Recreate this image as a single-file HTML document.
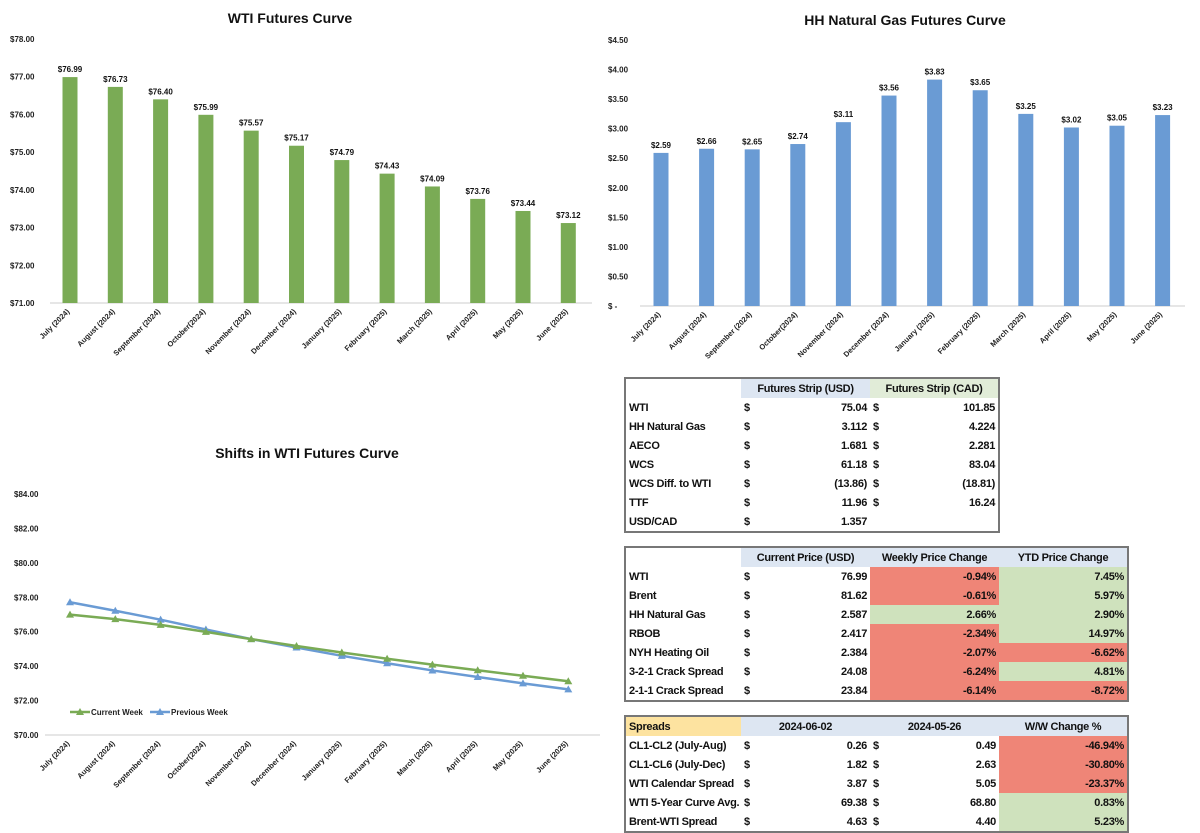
<!DOCTYPE html>
<html><head><meta charset="utf-8"><style>
body{margin:0;width:1200px;height:829px;background:#fff;font-family:"Liberation Sans",Arial,sans-serif;overflow:hidden;position:relative}
svg{position:absolute;left:0;top:0}
table{position:absolute;border-collapse:collapse;table-layout:fixed;font-size:11px;letter-spacing:-0.3px;font-weight:bold;color:#111;border:2px solid #777}
td{height:19px;padding:0 3px;white-space:nowrap}
.r{text-align:right}.h{text-align:center;background:#dde6f2}.hc{text-align:center;background:#e1ecd8}
.red{background:#ef8577}.grn{background:#cfe2bd}.yel{background:#fde3a0;text-align:left}
</style></head><body>
<svg id="c" width="1200" height="829"></svg>

<table style="left:624px;top:377px;width:376px">
<colgroup><col style="width:116px"><col style="width:20px"><col style="width:109px"><col style="width:20px"><col style="width:109px"></colgroup>
<tr><td></td><td class="h" colspan="2">Futures Strip (USD)</td><td class="hc" colspan="2">Futures Strip (CAD)</td></tr>
<tr><td>WTI</td><td>$</td><td class="r">75.04</td><td>$</td><td class="r">101.85</td></tr>
<tr><td>HH Natural Gas</td><td>$</td><td class="r">3.112</td><td>$</td><td class="r">4.224</td></tr>
<tr><td>AECO</td><td>$</td><td class="r">1.681</td><td>$</td><td class="r">2.281</td></tr>
<tr><td>WCS</td><td>$</td><td class="r">61.18</td><td>$</td><td class="r">83.04</td></tr>
<tr><td>WCS Diff. to WTI</td><td>$</td><td class="r">(13.86)</td><td>$</td><td class="r">(18.81)</td></tr>
<tr><td>TTF</td><td>$</td><td class="r">11.96</td><td>$</td><td class="r">16.24</td></tr>
<tr><td>USD/CAD</td><td>$</td><td class="r">1.357</td><td></td><td></td></tr>
</table>

<table style="left:624px;top:546px;width:505px">
<colgroup><col style="width:116px"><col style="width:20px"><col style="width:109px"><col style="width:129px"><col style="width:129px"></colgroup>
<tr><td></td><td class="h" colspan="2">Current Price (USD)</td><td class="h">Weekly Price Change</td><td class="h">YTD Price Change</td></tr>
<tr><td>WTI</td><td>$</td><td class="r">76.99</td><td class="r red">-0.94%</td><td class="r grn">7.45%</td></tr>
<tr><td>Brent</td><td>$</td><td class="r">81.62</td><td class="r red">-0.61%</td><td class="r grn">5.97%</td></tr>
<tr><td>HH Natural Gas</td><td>$</td><td class="r">2.587</td><td class="r grn">2.66%</td><td class="r grn">2.90%</td></tr>
<tr><td>RBOB</td><td>$</td><td class="r">2.417</td><td class="r red">-2.34%</td><td class="r grn">14.97%</td></tr>
<tr><td>NYH Heating Oil</td><td>$</td><td class="r">2.384</td><td class="r red">-2.07%</td><td class="r red">-6.62%</td></tr>
<tr><td>3-2-1 Crack Spread</td><td>$</td><td class="r">24.08</td><td class="r red">-6.24%</td><td class="r grn">4.81%</td></tr>
<tr><td>2-1-1 Crack Spread</td><td>$</td><td class="r">23.84</td><td class="r red">-6.14%</td><td class="r red">-8.72%</td></tr>
</table>

<table style="left:624px;top:715px;width:505px">
<colgroup><col style="width:116px"><col style="width:20px"><col style="width:109px"><col style="width:20px"><col style="width:109px"><col style="width:129px"></colgroup>
<tr><td class="yel">Spreads</td><td class="h" colspan="2">2024-06-02</td><td class="h" colspan="2">2024-05-26</td><td class="h">W/W Change %</td></tr>
<tr><td>CL1-CL2 (July-Aug)</td><td>$</td><td class="r">0.26</td><td>$</td><td class="r">0.49</td><td class="r red">-46.94%</td></tr>
<tr><td>CL1-CL6 (July-Dec)</td><td>$</td><td class="r">1.82</td><td>$</td><td class="r">2.63</td><td class="r red">-30.80%</td></tr>
<tr><td>WTI Calendar Spread</td><td>$</td><td class="r">3.87</td><td>$</td><td class="r">5.05</td><td class="r red">-23.37%</td></tr>
<tr><td>WTI 5-Year Curve Avg.</td><td>$</td><td class="r">69.38</td><td>$</td><td class="r">68.80</td><td class="r grn">0.83%</td></tr>
<tr><td>Brent-WTI Spread</td><td>$</td><td class="r">4.63</td><td>$</td><td class="r">4.40</td><td class="r grn">5.23%</td></tr>
</table>

<script>
const months=["July (2024)","August (2024)","September (2024)","October(2024)","November (2024)","December (2024)","January (2025)","February (2025)","March (2025)","April (2025)","May (2025)","June (2025)"];
const wtiValues=[76.99,76.73,76.40,75.99,75.57,75.17,74.79,74.43,74.09,73.76,73.44,73.12];
const hhValues=[2.59,2.66,2.65,2.74,3.11,3.56,3.83,3.65,3.25,3.02,3.05,3.23];
const currentWeek=[76.99,76.73,76.40,75.99,75.57,75.17,74.79,74.43,74.09,73.76,73.44,73.12];
const previousWeek=[77.71,77.22,76.70,76.13,75.57,75.08,74.60,74.17,73.75,73.37,73.00,72.65];
const wtiTicks=[71,72,73,74,75,76,77,78];
const hhTicks=[0,0.5,1,1.5,2,2.5,3,3.5,4,4.5];
const shiftTicks=[70,72,74,76,78,80,82,84];

const svg=document.getElementById('c');const NS='http://www.w3.org/2000/svg';
function mk(t,a,txt){const e=document.createElementNS(NS,t);for(const k in a)e.setAttribute(k,a[k]);if(txt!=null)e.textContent=txt;svg.appendChild(e);return e;}
function lin(d0,d1,r0,r1){return v=>r0+(v-d0)*(r1-r0)/(d1-d0);}
function title(x,y,t,n){const e=mk('text',{x:x,y:y,'text-anchor':'middle','font-size':14,'font-weight':'bold',fill:'#111'},t);

}
function xlabels(xs,y,pre){months.forEach((m,i)=>{const e=mk('text',{x:xs(i),y:y,'text-anchor':'end','font-size':7.5,'font-weight':'bold',fill:'#222',transform:`rotate(-45 ${xs(i)} ${y})`},m);

});}

// WTI bar chart
{const y=lin(71,78,303,39),x=i=>70+i*45.3;
title(290,23,'WTI Futures Curve','wti-chart-title');
wtiTicks.forEach(t=>{const e=mk('text',{x:10,y:y(t)+3,'font-size':8,'font-weight':'bold',fill:'#222'},'$'+t.toFixed(2));

});
mk('line',{x1:50,x2:592,y1:303,y2:303,stroke:'#ccc'});
wtiValues.forEach((v,i)=>{const b=mk('rect',{x:x(i)-7.5,y:y(v),width:15,height:303-y(v),fill:'#7aab55'});


const l=mk('text',{x:x(i),y:y(v)-5,'text-anchor':'middle','font-size':8,'font-weight':'bold',fill:'#111'},'$'+v.toFixed(2));

});
xlabels(x,312,'wti');}

// HH bar chart
{const y=lin(0,4.5,306,40),x=i=>661+i*45.6;
title(905,25,'HH Natural Gas Futures Curve','hh-chart-title');
hhTicks.forEach(t=>{const e=mk('text',{x:608,y:y(t)+3,'font-size':8,'font-weight':'bold',fill:'#222'},t===0?'$ -':'$'+t.toFixed(2));

});
mk('line',{x1:640,x2:1185,y1:306,y2:306,stroke:'#ccc'});
hhValues.forEach((v,i)=>{const b=mk('rect',{x:x(i)-7.5,y:y(v),width:15,height:306-y(v),fill:'#6a9bd4'});


const l=mk('text',{x:x(i),y:y(v)-5,'text-anchor':'middle','font-size':8,'font-weight':'bold',fill:'#111'},'$'+v.toFixed(2));

});
xlabels(x,315,'hh');}

// Shifts line chart
{const y=lin(70,84,735,494),x=i=>70+i*45.3;
title(307,458,'Shifts in WTI Futures Curve','shifts-chart-title');
shiftTicks.forEach(t=>{const e=mk('text',{x:14,y:y(t)+3,'font-size':8,'font-weight':'bold',fill:'#222'},'$'+t.toFixed(2));

});
mk('line',{x1:45,x2:600,y1:735,y2:735,stroke:'#ccc'});
function series(vals,col,n){const p=mk('polyline',{points:vals.map((v,i)=>x(i)+','+y(v)).join(' '),fill:'none',stroke:col,'stroke-width':2.5});


vals.forEach((v,i)=>{const m=mk('polygon',{points:`${x(i)},${y(v)-4} ${x(i)-4},${y(v)+3} ${x(i)+4},${y(v)+3}`,fill:col});

});}
series(previousWeek,'#6a9bd4','previous-week');
series(currentWeek,'#7aab55','current-week');
[[70,'#7aab55','Current Week'],[150,'#6a9bd4','Previous Week']].forEach(([lx,c,t])=>{
mk('line',{x1:lx,x2:lx+20,y1:712,y2:712,stroke:c,'stroke-width':2.5});
mk('polygon',{points:`${lx+10},${708} ${lx+6},${715} ${lx+14},${715}`,fill:c});
const e=mk('text',{x:lx+21,y:715,'font-size':8,'font-weight':'bold',fill:'#222'},t);

});
xlabels(x,744,'shifts');}
</script>
</body></html>
